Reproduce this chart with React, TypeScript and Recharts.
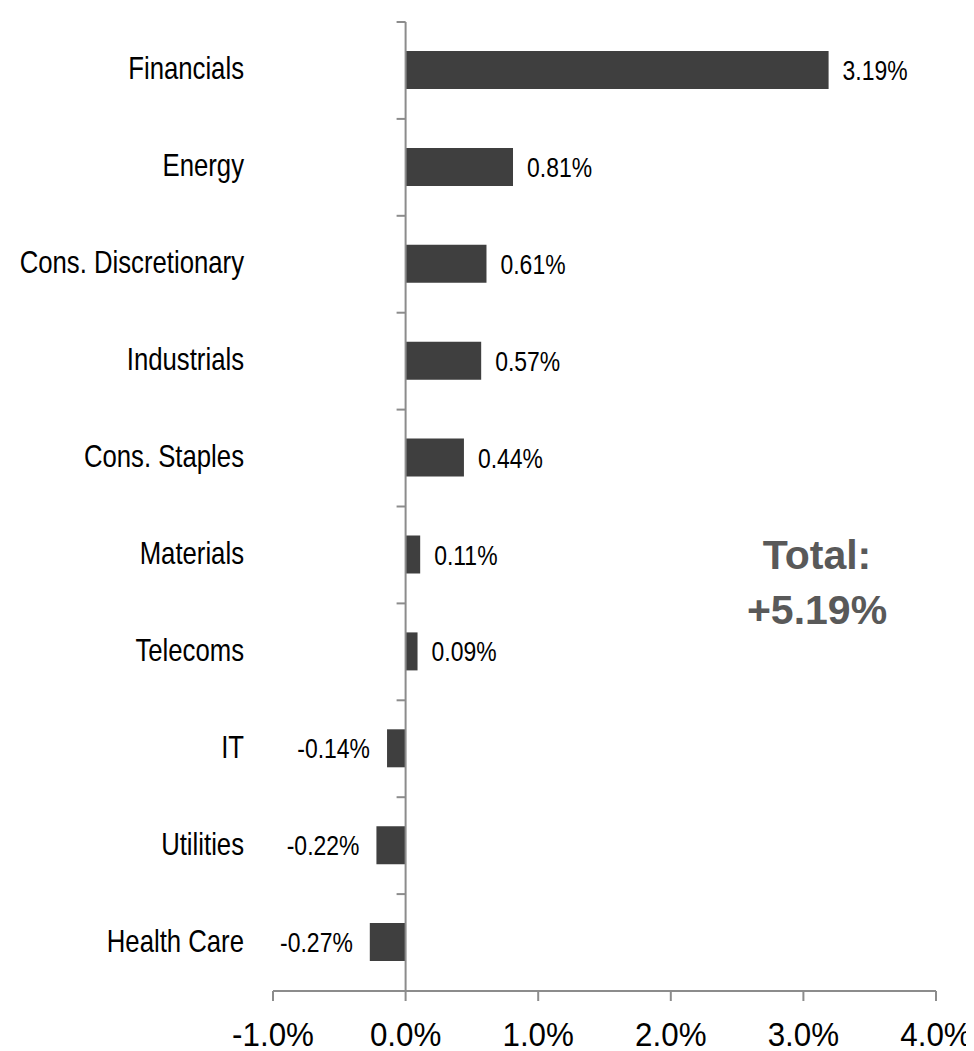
import React from "react";
import { BarChart, Bar, XAxis, YAxis, ReferenceLine, LabelList } from "recharts";

const categories = [
  "Financials",
  "Energy",
  "Cons. Discretionary",
  "Industrials",
  "Cons. Staples",
  "Materials",
  "Telecoms",
  "IT",
  "Utilities",
  "Health Care",
];
const contributions = [3.19, 0.81, 0.61, 0.57, 0.44, 0.11, 0.09, -0.14, -0.22, -0.27];
const xTicks = [-1, 0, 1, 2, 3, 4];
const totalLabel = ["Total:", "+5.19%"];

const data = categories.map((name, i) => ({ name, value: contributions[i] }));

const FONT = "'Liberation Sans', Arial, sans-serif";
const AXIS = "#8c8c8c";
const BAR = "#3f3f3f";

function NarrowText(props: any) {
  const { x, y, anchor, size, scale, dy, children, fill } = props;
  return (
    <g transform={`translate(${x},${y}) scale(${scale},1)`}>
      <text x={0} y={dy} textAnchor={anchor} fontSize={size} fontFamily={FONT} fill={fill || "#000"}>
        {children}
      </text>
    </g>
  );
}

const CategoryTick = (props: any) => {
  const { x, y, payload } = props;
  return (
    <NarrowText x={x} y={y} anchor="end" size={31} scale={0.83} dy={9}>
      {payload.value}
    </NarrowText>
  );
};

const ValueTick = (props: any) => {
  const { x, y, payload } = props;
  return (
    <NarrowText x={x} y={y} anchor="middle" size={33} scale={0.95} dy={45}>
      {`${Number(payload.value).toFixed(1)}%`}
    </NarrowText>
  );
};

const BarValue = (props: any) => {
  const { x, y, width, height, value } = props;
  const left = Math.min(x, x + width);
  const right = Math.max(x, x + width);
  const cy = y + height / 2;
  const pos = value >= 0;
  return (
    <NarrowText
      x={pos ? right + 14 : left - 17}
      y={cy}
      anchor={pos ? "start" : "end"}
      size={27}
      scale={0.85}
      dy={10}
    >
      {`${Number(value).toFixed(2)}%`}
    </NarrowText>
  );
};

export default function App() {
  return (
    <div style={{ position: "relative", width: 958, height: 1043 }}>
      <BarChart
        width={958}
        height={1043}
        data={data}
        layout="vertical"
        margin={{ top: 14, right: 30, bottom: 0, left: 0 }}
        barSize={38}
      >
        <XAxis
          type="number"
          domain={[-1, 4]}
          ticks={xTicks}
          allowDataOverflow
          height={60}
          tickSize={10}
          tickMargin={0}
          axisLine={{ stroke: AXIS, strokeWidth: 2 }}
          tickLine={{ stroke: AXIS, strokeWidth: 2 }}
          tick={<ValueTick />}
        />
        <YAxis
          type="category"
          dataKey="name"
          width={265}
          axisLine={false}
          tickLine={false}
          tickSize={0}
          tickMargin={29}
          interval={0}
          tick={<CategoryTick />}
        />
        <Bar dataKey="value" fill={BAR} isAnimationActive={false}>
          <LabelList dataKey="value" content={<BarValue />} />
        </Bar>
        <ReferenceLine x={0} stroke={AXIS} strokeWidth={2} />
        {categories.map((c) => (
          <ReferenceLine
            key={c}
            position="start"
            segment={[
              { x: -0.068, y: c },
              { x: 0, y: c },
            ]}
            stroke={AXIS}
            strokeWidth={2}
          />
        ))}
      </BarChart>
      <div
        style={{
          position: "absolute",
          left: 709,
          top: 520,
          width: 200,
          textAlign: "center",
          fontFamily: FONT,
          fontWeight: "bold",
          fontSize: 41,
          lineHeight: "55px",
          color: "#595959",
        }}
      >
        <div>{totalLabel[0]}</div>
        <div>{totalLabel[1]}</div>
      </div>
    </div>
  );
}
